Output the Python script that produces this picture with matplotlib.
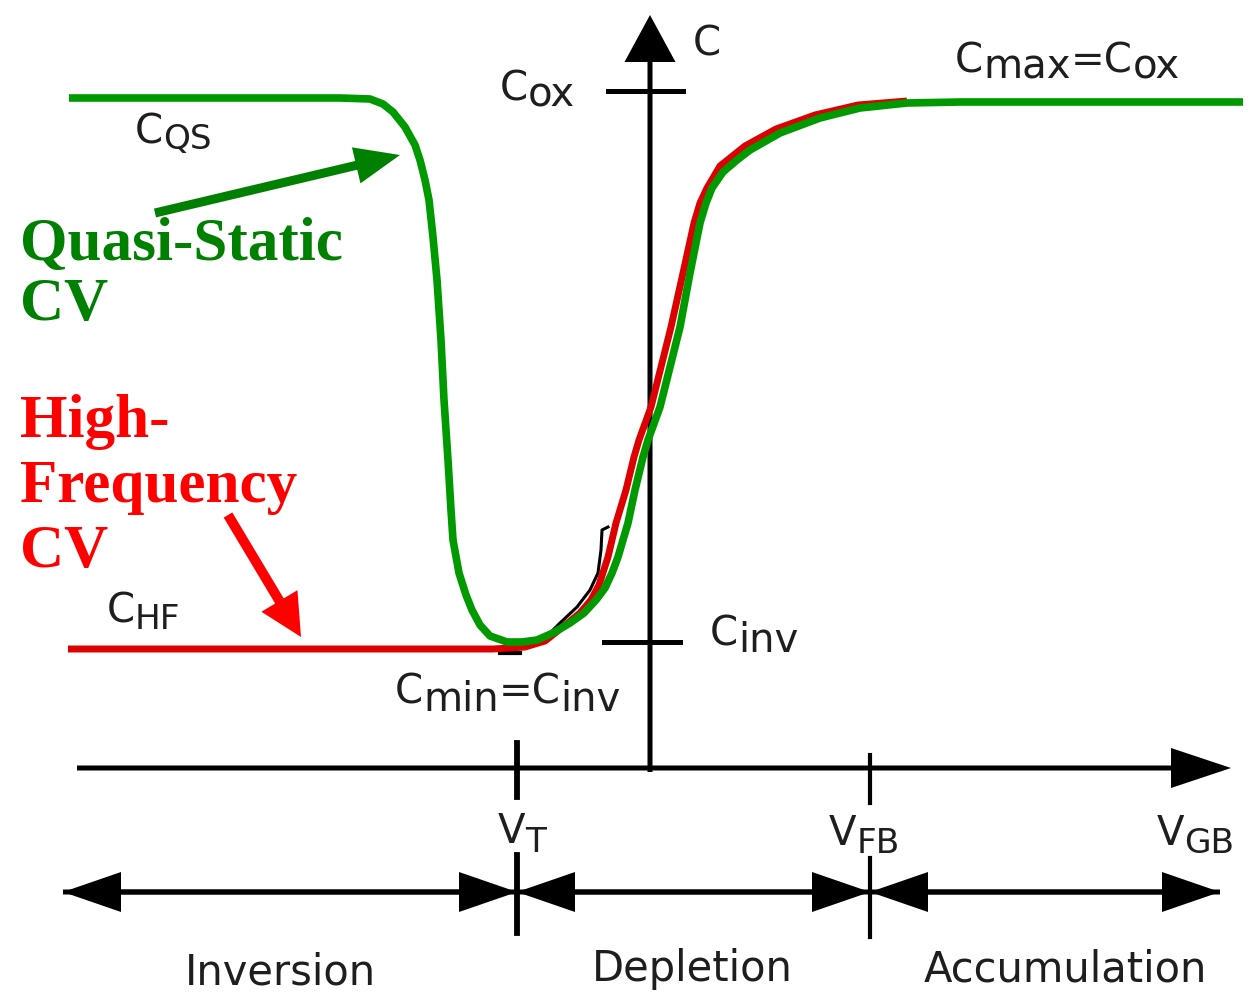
import numpy as np
import matplotlib.pyplot as plt

# Quasi-static C-V curve (V measured from the C axis, C measured above the V axis)
qs_v = [-581, -310, -280, -267, -257, -245, -235, -230, -225, -221, -217, -213,
        -209, -206, -202, -199, -197, -191, -184, -178, -170, -160, -143, -128,
        -113, -97, -80, -66, -54, -45, -38, -32, -22, -15, -7, -2, 10, 20, 30,
        40, 50, 56, 62, 73, 87, 100, 130, 170, 210, 257, 310, 593]
qs_c = [670, 670, 669, 664, 656, 641, 623, 608, 588, 568, 531, 488,
        428, 368, 308, 258, 228, 195, 173, 158, 143, 132, 126, 126,
        128, 135, 145, 155, 168, 180, 195, 211, 245, 278, 311, 328, 361, 401, 441,
        495, 545, 565, 580, 596, 608, 618, 635, 650, 660, 665, 666, 666]

# High-frequency C-V curve
hf_v = [-582, -157, -140, -125, -105, -86, -70, -59, -51, -42, -34, -24, -16,
        -11, 1, 11, 21, 33, 44, 50, 57, 70, 95, 126, 165, 208, 257]
hf_c = [119, 119, 120, 121, 127, 142, 155, 168, 183, 211, 245, 278, 311,
        328, 361, 401, 441, 495, 545, 565, 580, 602, 622, 639, 653, 663, 667]

# stray black trace showing under the curves
trace_v = [-97, -90, -73, -60, -52, -49, -48, -42]
trace_c = [138, 145, 161, 178, 195, 218, 238, 241]
trace2_v = [-150, -130]
trace2_c = [115, 115]

# axis marks
v_start, v_end = -573, 581
c_top = 753
C_ox = 677
C_inv = 126
V_T = -133
V_FB = 220
region_edges = [-587, V_T, V_FB, 570]
region_names = ["Inversion", "Depletion", "Accumulation"]
region_centers = [-370, 42, 415]
region_base = [-216, -213, -213]

ink = "#1e1e1e"
green = "#009a00"
green_txt = "#008000"
red = "#dd0000"
red_txt = "#ff0000"
sans = "DejaVu Sans"
serif = "Liberation Serif"

fig = plt.figure(figsize=(12.58, 9.96), dpi=100)
ax = fig.add_axes([0, 0, 1, 1])
ax.set_xlim(-650, 608)
ax.set_ylim(-228, 768)
ax.axis("off")

# axes with arrowheads
ax.arrow(v_start, 0, v_end - v_start, 0, width=5, head_width=40, head_length=60,
         length_includes_head=True, fc="k", ec="k", lw=0, zorder=1)
ax.arrow(0, -4, 0, c_top + 4, width=5, head_width=51, head_length=47,
         length_includes_head=True, fc="k", ec="k", lw=0, zorder=1)

# ticks
ax.plot([-42, 33], [C_ox, C_ox], color="k", lw=3.6, zorder=1)
ax.plot([-46, 30], [C_inv, C_inv], color="k", lw=3.6, zorder=1)
ax.plot([V_T, V_T], [25, -29], color="k", lw=4.2, zorder=1)
ax.plot([V_FB, V_FB], [13, -35], color="k", lw=3.0, zorder=1)

# region arrows
reg_c = -124
for a, b in zip(region_edges[:-1], region_edges[1:]):
    ax.arrow(a, reg_c, b - a, 0, width=5, head_width=40, head_length=58,
             length_includes_head=True, fc="k", ec="k", lw=0)
    ax.arrow(b, reg_c, a - b, 0, width=5, head_width=40, head_length=58,
             length_includes_head=True, fc="k", ec="k", lw=0)
ax.plot([V_T, V_T], [-87, -165], color="k", lw=4.2)
ax.plot([V_FB, V_FB], [-90, -169], color="k", lw=3.0)

for name, x, y in zip(region_names, region_centers, region_base):
    ax.text(x, y, name, fontsize=30, ha="center", va="baseline",
            color=ink, family=sans)

# curves
ax.plot(trace_v, trace_c, color="k", lw=2.2, zorder=2)
ax.plot(trace2_v, trace2_c, color="k", lw=3, zorder=2)
ax.plot(hf_v, hf_c, color=red, lw=5, solid_joinstyle="round",
        solid_capstyle="butt", zorder=3)
ax.plot(qs_v, qs_c, color=green, lw=5.5, solid_joinstyle="round",
        solid_capstyle="butt", zorder=4)

# pointer arrows
ax.arrow(-495, 555, 245, 58, width=9, head_width=37, head_length=45,
         length_includes_head=True, fc=green_txt, ec=green_txt, lw=0, zorder=5)
ax.arrow(-422, 253, 73, -122, width=10, head_width=42, head_length=42,
         length_includes_head=True, fc=red_txt, ec=red_txt, lw=0, zorder=5)


def label(v, c, parts, size=29):
    # parts: (text, baseline shift vs previous piece in pt, size factor)
    t = ax.text(v, c, parts[0][0], fontsize=size * parts[0][2], ha="left",
                va="baseline", color=ink, family=sans)
    for s, dy, k in parts[1:]:
        t = ax.annotate(s, xy=(1, 0), xycoords=t, xytext=(0, dy),
                        textcoords="offset points", ha="left", va="bottom",
                        fontsize=size * k, color=ink, family=sans)


label(43, 713, [("C", 0, 1)])
label(-150, 668, [("C", 0, 1), ("ox", -5, 1)])
label(305, 696, [("C", 0, 1), ("max", -4.5, 1), ("=C", 4.5, 1), ("ox", -4.5, 1)])
label(-515, 625, [("C", 0, 1), ("QS", -3, 0.85)])
label(-543, 146, [("C", 0, 1), ("HF", -3.5, 0.85)])
label(60, 123, [("C", 0, 1), ("inv", -5, 1)])
label(-255, 65, [("C", 0, 1), ("min", -6, 1), ("=C", 6, 1), ("inv", -6, 1)])
label(-152, -75, [("V", 0, 1), ("T", -5, 0.85)])
label(179, -77, [("V", 0, 1), ("FB", -4, 0.85)])
label(507, -77, [("V", 0, 1), ("GB", -4.5, 0.85)])

serif_lines = [("Quasi-Static", 508, green_txt), ("CV", 448, green_txt),
               ("High-", 331, red_txt), ("Frequency", 266, red_txt),
               ("CV", 201, red_txt)]
for s, y, col in serif_lines:
    ax.text(-630, y, s, fontsize=44, fontweight="bold", family=serif,
            color=col, ha="left", va="baseline")

fig.savefig("out.png", dpi=100)
